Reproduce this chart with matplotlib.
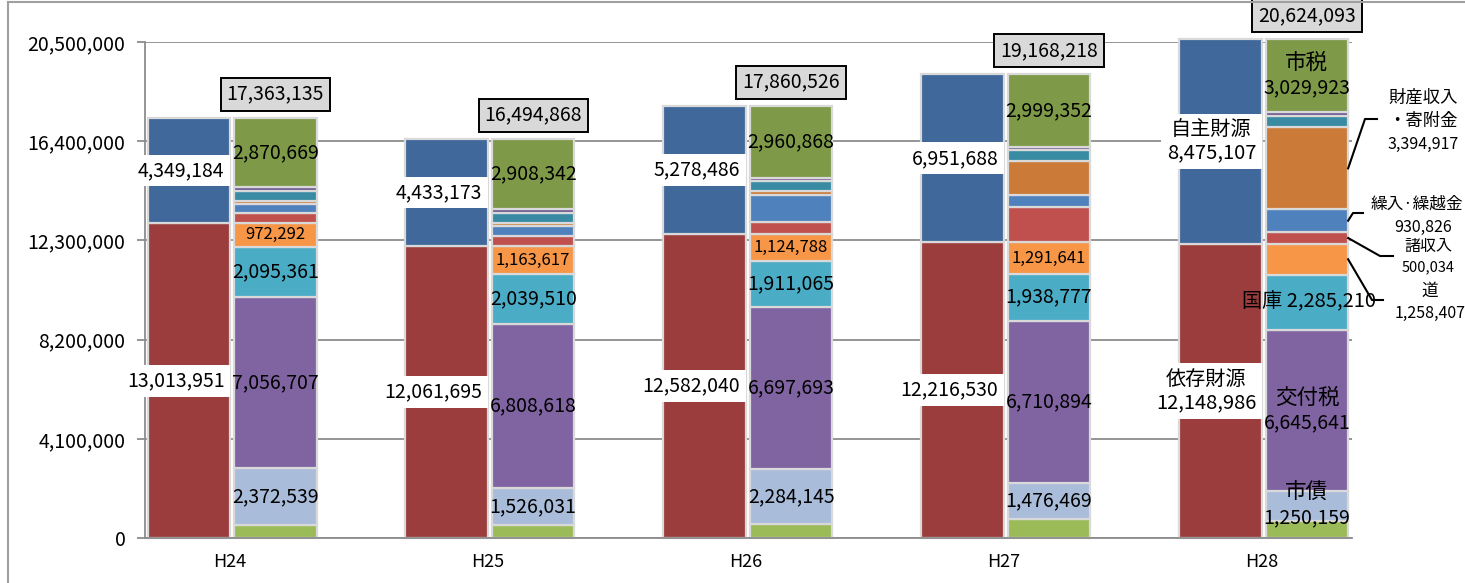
import matplotlib
matplotlib.use('Agg')
import matplotlib.pyplot as plt
from matplotlib.lines import Line2D
import numpy as np

plt.rcParams['font.family'] = ['Noto Sans CJK JP', 'DejaVu Sans']

# ---------------- data ----------------
years = ['H24', 'H25', 'H26', 'H27', 'H28']
totals = [17363135, 16494868, 17860526, 19168218, 20624093]
izon = [13013951, 12061695, 12582040, 12216530, 12148986]      # 依存財源
jishu = [4349184, 4433173, 5278486, 6951688, 8475107]          # 自主財源

sonota_izon = [517052, 523919, 564349, 798749, 709569]         # その他依存財源
shisai = [2372539, 1526031, 2284145, 1476469, 1250159]         # 市債
kofuzei = [7056707, 6808618, 6697693, 6710894, 6645641]        # 交付税
kokko = [2095361, 2039510, 1911065, 1938777, 2285210]          # 国庫
do_ = [972292, 1163617, 1124788, 1291641, 1258407]             # 道
shoshunyu = [400000, 420000, 490000, 1470000, 500034]          # 諸収入
kurii = [393515, 394831, 1122618, 502336, 930826]              # 繰入・繰越金
zaisan = [135000, 140000, 140000, 1400000, 3394917]            # 財産収入・寄附金
sonota1 = [410000, 420000, 420000, 430000, 449407]             # その他自主財源
sonota2 = [140000, 150000, 145000, 150000, 170000]             # その他
shizei = [2870669, 2908342, 2960868, 2999352, 3029923]         # 市税

yticks = [0, 4100000, 8200000, 12300000, 16400000, 20500000]

# ---------------- figure ----------------
W, H = 1465, 583
fig = plt.figure(figsize=(W / 100, H / 100), dpi=100)
ax = fig.add_axes([145 / W, 45 / H, 1207 / W, 496 / H])
ax.set_xlim(-0.33, 4.35)
ax.set_ylim(0, 20500000)

x = np.arange(len(years))
bw = 0.32
xl = x - 0.16
xr = x + 0.175
edge = '#d9d9d9'
elw = 1.6

# left bars
left_series = [(izon, '#9c3d3d'), (jishu, '#40689b')]
bottom = np.zeros(len(years))
for vals, col in left_series:
    ax.bar(xl, vals, bw, bottom=bottom, color=col, edgecolor=edge, linewidth=elw,
           clip_on=False, zorder=2)
    bottom = bottom + np.array(vals)

# right bars
right_series = [
    (sonota_izon, '#9bbb59'), (shisai, '#a9bcd9'), (kofuzei, '#8064a2'),
    (kokko, '#4bacc6'), (do_, '#f79646'), (shoshunyu, '#c0504d'),
    (kurii, '#4f81bd'), (zaisan, '#cc7a37'), (sonota1, '#388ba3'),
    (sonota2, '#6f5a92'), (shizei, '#7e9a48'),
]
bottom = np.zeros(len(years))
centers = {}
for idx, (vals, col) in enumerate(right_series):
    ax.bar(xr, vals, bw, bottom=bottom, color=col, edgecolor=edge, linewidth=elw,
           clip_on=False, zorder=2)
    centers[idx] = bottom + np.array(vals) / 2
    bottom = bottom + np.array(vals)

# axes styling
gc = '#8c8c8c'
ax.set_axisbelow(True)
ax.yaxis.grid(True, color=gc, linewidth=1.3)
ax.set_yticks(yticks)
ax.set_yticklabels([f'{v:,}' for v in yticks])
ax.tick_params(axis='y', length=6, width=1.3, color=gc, labelsize=14, pad=8)
ax.set_xticks(x)
ax.set_xticklabels(years)
ax.tick_params(axis='x', length=0, labelsize=13, pad=11)
for s in ['top', 'right']:
    ax.spines[s].set_visible(False)
for s in ['left', 'bottom']:
    ax.spines[s].set_color(gc)
    ax.spines[s].set_linewidth(1.3)

fs = 14
# left labels (white boxes)
izon_c = np.array(izon) / 2
jishu_c = np.array(izon) + np.array(jishu) / 2
for i in range(len(years)):
    if i < 4:
        t1 = f'{izon[i]:,}'
        t2 = f'{jishu[i]:,}'
    else:
        t1 = f'依存財源\n{izon[i]:,}'
        t2 = f'自主財源\n{jishu[i]:,}'
    for t, yc in [(t1, izon_c[i]), (t2, jishu_c[i])]:
        ax.annotate(t, xy=(x[i], yc), xytext=(-4, 0), textcoords='offset points',
                    ha='right', va='center', multialignment='center',
                    fontsize=fs if i < 4 else 14.5, linespacing=1.15,
                    bbox=dict(boxstyle='square,pad=0.28', fc='white', ec='none'),
                    zorder=5, annotation_clip=False)

# right labels
lab_idx = {10: '市税', 4: '道', 3: '国庫', 2: '交付税', 1: '市債'}
for i in range(len(years)):
    for k, name in lab_idx.items():
        vals = right_series[k][0]
        yc = centers[k][i]
        if i < 4:
            ax.text(xr[i], yc, f'{vals[i]:,}', ha='center', va='center',
                    fontsize=12 if k == 4 else fs, zorder=5)
        else:
            if k == 4:
                continue
            if k == 3:
                ax.text(xr[i] + 0.01, yc, f'{name} {vals[i]:,}', ha='center', va='center',
                        fontsize=14.5, zorder=5)
            else:
                ax.annotate(name, xy=(xr[i], yc), xytext=(0, 9), textcoords='offset points',
                            ha='center', va='center', fontsize=15.5, zorder=5)
                ax.annotate(f'{vals[i]:,}', xy=(xr[i], yc), xytext=(0, -9),
                            textcoords='offset points', ha='center', va='center',
                            fontsize=fs, zorder=5)

# total boxes
for i in range(len(years)):
    ax.annotate(f'{totals[i]:,}', xy=(xr[i], totals[i]), xytext=(0, 17),
                textcoords='offset points', ha='center', va='center', fontsize=fs,
                bbox=dict(boxstyle='square,pad=0.3', fc='#d9d9d9', ec='black', lw=1.4),
                zorder=6, annotation_clip=False)

# external annotations for H28 with leader lines
fig.canvas.draw()
i = 4
redge = xr[i] + bw / 2
ext = [
    (7, '財産収入\n・寄附金', f'{zaisan[i]:,}', (1365, 119), (1377, 119), (1423, 98), (1423, 144), 12.5, 11.5),
    (6, '繰入·繰越金', f'{kurii[i]:,}', (1353, 213), (1363, 213), (1417, 204), (1423, 227), 12, 11.5),
    (5, '諸収入', f'{shoshunyu[i]:,}', (1380, 256), (1393, 256), (1428, 246), (1428, 267), 11.5, 10.5),
    (4, '道', f'{do_[i]:,}', (1372, 300), (1383, 300), (1430, 291), (1430, 313), 12, 11.5),
]
for k, name, num, p1, p2, tn, tv, fsn, fsv in ext:
    sx, sy = ax.transData.transform((redge, centers[k][i]))
    xs = [sx / W, p1[0] / W, p2[0] / W]
    ys = [sy / H, (H - p1[1]) / H, (H - p2[1]) / H]
    fig.add_artist(Line2D(xs, ys, color='black', lw=1.5, transform=fig.transFigure))
    if '\n' in name:
        n1, n2 = name.split('\n')
        fig.text(tn[0] / W, (H - tn[1]) / H, n1, ha='center', va='center', fontsize=fsn)
        fig.text(tn[0] / W, (H - 121) / H, n2, ha='center', va='center', fontsize=fsn)
    else:
        fig.text(tn[0] / W, (H - tn[1]) / H, name, ha='center', va='center', fontsize=fsn)
    fig.text(tv[0] / W, (H - tv[1]) / H, num, ha='center', va='center', fontsize=fsv)

# chart frame
fig.add_artist(Line2D([8 / W, 8 / W], [0, 1 - 1.5 / H], color='#a0a0a0', lw=1.5,
                      transform=fig.transFigure))
fig.add_artist(Line2D([8 / W, 1], [1 - 1.5 / H, 1 - 1.5 / H], color='#a0a0a0', lw=1.5,
                      transform=fig.transFigure))

fig.savefig('out.png', dpi=100)
